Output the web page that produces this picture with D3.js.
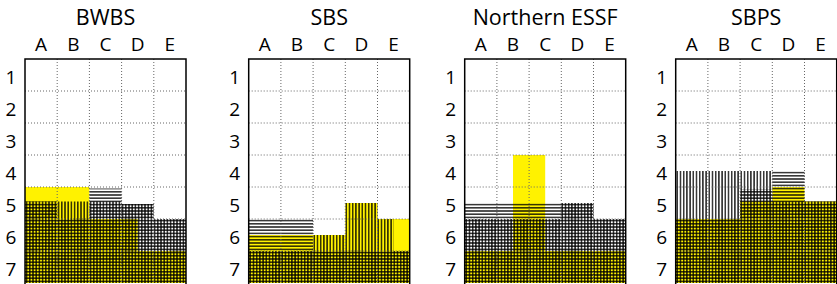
<!DOCTYPE html>
<html lang="en">

<head>
    <meta charset="utf-8">
    <title>Zones</title>
    <style>
        body {
            margin: 0;
            background: white;
        }

        text {
            font-family: "Open Sans", "Noto Sans", sans-serif;
            fill: black;
        }

        text.title {
            font-size: 21.5px;
        }

        text.tick {
            font-size: 19px;
        }
    </style>
</head>

<body>
    <svg width="837" height="284"></svg>
    <script src="https://d3js.org/d3.v7.min.js"></script>
    <script>
        // zones, columns and rows
        var zones = ['BWBS', 'SBS', 'Northern ESSF', 'SBPS'];
        var columns = ['A', 'B', 'C', 'D', 'E'];
        var rows = ['1', '2', '3', '4', '5', '6', '7'];

        // top of each layer, one value per half column (A left, A right, B left ...)
        var bwbsYellow = [4.5, 4.5, 4.5, 4.5, 5.5, 5.5, 5.5, 6.5, 6.5, 6.5];
        var bwbsHoriz = [4.95, 4.95, 5.5, 5.5, 4.55, 4.55, 5.03, 5.03, 5.5, 5.5];
        var bwbsVert = [4.95, 4.95, 4.95, 4.95, 4.95, 4.95, 5.03, 5.03, 5.5, 5.5];

        var sbsYellow = [6, 6, 6, 6, 6, 6, 5, 5, 5.5, 5.5];
        var sbsHoriz = [5.5, 5.5, 5.5, 5.5, 6.5, 6.5, 6.5, 6.5, 6.5, 6.5];
        var sbsVert = [6.5, 6.5, 6.5, 6.5, 6, 6, 5, 5, 5.5, 6.5];

        var essfYellow = [6.5, 6.5, 6.5, 3.5, 3.5, 6.5, 6.5, 6.5, 6.5, 6.5];
        var essfHoriz = [5, 5, 5, 5, 5, 5, 5, 5, 5.5, 5.5];
        var essfVert = [5.5, 5.5, 5.5, 5.5, 5.5, 5.5, 5, 5, 5.5, 5.5];

        var sbpsYellow = [5.5, 5.5, 5.5, 5.5, 4.95, 4.95, 4.5, 4.5, 4.95, 4.95];
        var sbpsHoriz = [5.5, 5.5, 5.5, 5.5, 4.57, 4.57, 4, 4, 4.95, 4.95];
        var sbpsVert = [4, 4, 4, 4, 4, 4, 4.95, 4.95, 4.95, 4.95];

        var layers = [
            [bwbsYellow, bwbsHoriz, bwbsVert],
            [sbsYellow, sbsHoriz, sbsVert],
            [essfYellow, essfHoriz, essfVert],
            [sbpsYellow, sbpsHoriz, sbpsVert]
        ];

        var svg = d3.select('svg');

        var panelLeft = [25, 248.7, 464.7, 675.7],
            panelTop = 59,
            panelWidth = 161,
            panelHeight = 224,
            gap = 3.2;

        var defs = svg.append('defs');

        var ph = defs.append('pattern')
            .attr('id', 'hatch-h')
            .attr('patternUnits', 'userSpaceOnUse')
            .attr('width', 8)
            .attr('height', gap);
        ph.append('line')
            .attr('x1', 0).attr('x2', 8)
            .attr('y1', gap / 2).attr('y2', gap / 2)
            .attr('stroke', '#000')
            .attr('stroke-width', 1.25);

        var pv = defs.append('pattern')
            .attr('id', 'hatch-v')
            .attr('patternUnits', 'userSpaceOnUse')
            .attr('width', gap)
            .attr('height', 8);
        pv.append('line')
            .attr('y1', 0).attr('y2', 8)
            .attr('x1', gap / 2).attr('x2', gap / 2)
            .attr('stroke', '#000')
            .attr('stroke-width', 1.25);

        var fills = ['#fff200', 'url(#hatch-h)', 'url(#hatch-v)'];

        var x = d3.scaleLinear().domain([0.5, 5.5]).range([0, panelWidth]),
            y = d3.scaleLinear().domain([0.5, 7.5]).range([0, panelHeight]);

        var area = d3.area()
            .curve(d3.curveStepAfter)
            .x(d => x(d[0]))
            .y0(y(7.5))
            .y1(d => y(d[1]));

        function toPoints(vals) {
            var pts = vals.map((v, i) => [0.5 + i * 0.5, v]);
            pts.push([5.5, vals[vals.length - 1]]);
            return pts;
        }

        zones.forEach((zone, zi) => {
            var g = svg.append('g')
                .attr('transform', `translate(${panelLeft[zi]}, ${panelTop})`);

            g.selectAll('path.layer')
                .data(layers[zi])
                .enter().append('path')
                .attr('class', 'layer')
                .attr('d', d => area(toPoints(d)))
                .attr('fill', (d, i) => fills[i]);

            // dotted grid
            g.selectAll('line.gx')
                .data(d3.range(1.5, 5.5, 1))
                .enter().append('line')
                .attr('class', 'gx')
                .attr('x1', d => x(d)).attr('x2', d => x(d))
                .attr('y1', 0).attr('y2', panelHeight)
                .attr('stroke', '#666')
                .attr('stroke-width', 1)
                .attr('stroke-dasharray', '1 2');

            g.selectAll('line.gy')
                .data(d3.range(1.5, 7.5, 1))
                .enter().append('line')
                .attr('class', 'gy')
                .attr('y1', d => y(d)).attr('y2', d => y(d))
                .attr('x1', 0).attr('x2', panelWidth)
                .attr('stroke', '#666')
                .attr('stroke-width', 1)
                .attr('stroke-dasharray', '1 2');

            g.append('path')
                .attr('d', `M0,${panelHeight + 2}V0H${panelWidth}V${panelHeight + 2}`)
                .attr('fill', 'none')
                .attr('stroke', '#000')
                .attr('stroke-width', 1.5);

            g.append('text')
                .attr('class', 'title')
                .attr('x', panelWidth / 2)
                .attr('y', -34)
                .attr('text-anchor', 'middle')
                .text(zone);

            g.selectAll('text.col')
                .data(columns)
                .enter().append('text')
                .attr('class', 'tick col')
                .attr('x', (d, i) => x(i + 1))
                .attr('y', -8.5)
                .attr('text-anchor', 'middle')
                .text(d => d);

            g.selectAll('text.row')
                .data(rows)
                .enter().append('text')
                .attr('class', 'tick row')
                .attr('x', -14)
                .attr('y', (d, i) => y(i + 1) + 9)
                .attr('text-anchor', 'middle')
                .text(d => d);
        });
    </script>
</body>

</html>
